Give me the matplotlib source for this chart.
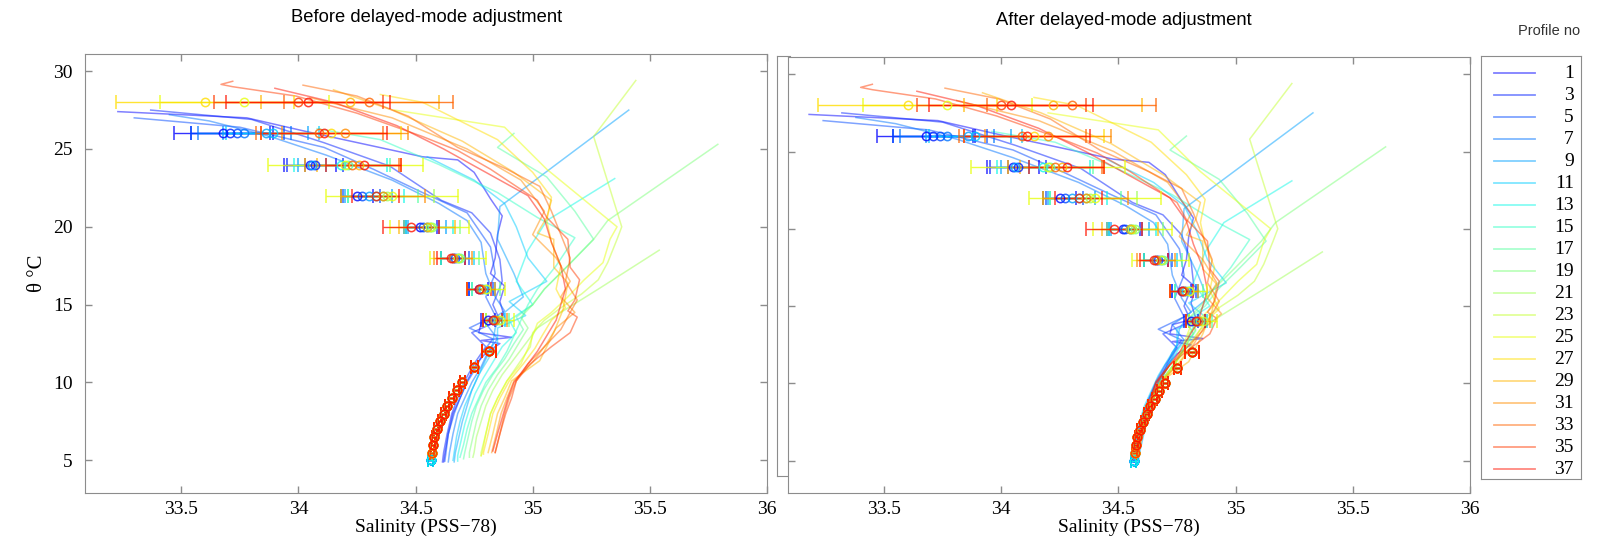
import numpy as np
import matplotlib
matplotlib.use('Agg')
import matplotlib.pyplot as plt
from matplotlib.lines import Line2D

plt.rcParams['font.family'] = 'Liberation Serif'

profile_no = [1, 3, 5, 7, 9, 11, 13, 15, 17, 19, 21, 23, 25, 27, 29, 31, 33, 35, 37]

# profiles before adjustment: potential temperature (degC) and salinity (PSS-78)
theta_p01 = [27.4, 27.0, 26.1, 24.5, 24.3, 23.5, 21.8, 20.7, 19.5, 18.0, 17.0, 16.2, 15.2, 14.2, 13.8, 13.2, 12.9, 12.7, 12.5, 11.9, 11.2, 10.1, 9.0, 8.0, 6.7, 5.4, 4.9]
sal_p01 = [33.23, 33.78, 34.04, 34.53, 34.68, 34.75, 34.82, 34.87, 34.85, 34.84, 34.82, 34.88, 34.86, 34.88, 34.78, 34.77, 34.91, 34.78, 34.86, 34.80, 34.76, 34.72, 34.69, 34.66, 34.64, 34.625, 34.62]
theta_p03 = [27.5, 26.9, 25.4, 23.9, 21.7, 20.9, 19.6, 17.9, 16.5, 15.0, 14.0, 13.2, 12.3, 11.2, 10.1, 9.0, 8.0, 6.7, 5.5, 4.9]
sal_p03 = [33.37, 33.80, 34.11, 34.39, 34.61, 34.74, 34.82, 34.86, 34.87, 34.83, 34.86, 34.74, 34.80, 34.75, 34.71, 34.68, 34.655, 34.635, 34.62, 34.615]
theta_p05 = [27.0, 26.4, 25.1, 23.7, 22.2, 20.9, 18.7, 17.0, 15.5, 14.3, 13.5, 12.8, 12.0, 11.0, 10.0, 9.0, 8.0, 6.7, 5.5, 4.95]
sal_p05 = [33.30, 33.75, 34.11, 34.32, 34.53, 34.72, 34.82, 34.84, 34.80, 34.84, 34.73, 34.83, 34.79, 34.76, 34.72, 34.69, 34.665, 34.64, 34.63, 34.625]
theta_p07 = [27.2, 26.8, 25.8, 24.6, 23.0, 21.5, 20.4, 19.0, 17.0, 15.5, 14.6, 13.8, 12.8, 12.0, 11.0, 10.0, 9.0, 8.0, 6.7, 5.5, 4.9]
sal_p07 = [33.45, 33.62, 33.88, 34.12, 34.40, 34.60, 34.72, 34.78, 34.80, 34.84, 34.88, 34.80, 34.85, 34.81, 34.78, 34.74, 34.71, 34.68, 34.66, 34.645, 34.64]
theta_p09 = [27.5, 21.3, 19.2, 17.0, 15.5, 14.5, 13.5, 12.5, 11.5, 10.5, 9.5, 8.5, 7.5, 6.5, 5.5, 4.9]
sal_p09 = [35.41, 34.86, 34.85, 34.92, 34.96, 34.88, 34.84, 34.83, 34.80, 34.77, 34.74, 34.72, 34.70, 34.685, 34.67, 34.665]
theta_p11 = [24.5, 23.0, 21.5, 20.0, 18.0, 16.5, 15.2, 14.3, 13.5, 12.5, 11.5, 10.5, 9.5, 8.5, 7.5, 6.5, 5.5, 5.0]
sal_p11 = [34.55, 34.75, 34.88, 34.93, 34.98, 35.06, 34.90, 34.97, 34.85, 34.85, 34.81, 34.77, 34.74, 34.71, 34.69, 34.675, 34.665, 34.66]
theta_p13 = [23.1, 20.4, 18.5, 16.5, 15.0, 14.0, 13.2, 12.3, 11.3, 10.3, 9.3, 8.3, 7.3, 6.3, 5.3, 4.95]
sal_p13 = [35.35, 35.06, 34.98, 34.93, 35.00, 34.90, 34.93, 34.87, 34.83, 34.79, 34.755, 34.73, 34.71, 34.695, 34.68, 34.68]
theta_p15 = [26.3, 25.6, 24.0, 22.2, 20.6, 19.3, 17.5, 16.0, 15.0, 14.0, 13.0, 12.0, 11.0, 10.0, 9.0, 8.0, 7.0, 6.0, 5.2]
sal_p15 = [34.08, 34.35, 34.60, 34.85, 35.02, 35.18, 35.10, 35.02, 34.98, 34.95, 34.92, 34.89, 34.85, 34.80, 34.77, 34.74, 34.72, 34.705, 34.69]
theta_p17 = [26.0, 25.1, 23.2, 21.0, 19.2, 17.5, 16.0, 15.0, 14.2, 13.4, 12.5, 11.5, 10.5, 9.5, 8.5, 7.5, 6.5, 5.5, 5.1]
sal_p17 = [34.92, 34.85, 35.06, 35.18, 35.26, 35.15, 35.05, 35.00, 34.93, 34.96, 34.92, 34.88, 34.83, 34.79, 34.76, 34.74, 34.725, 34.71, 34.705]
theta_p19 = [25.3, 20.4, 19.2, 17.5, 16.0, 15.0, 14.2, 13.5, 12.5, 11.5, 10.5, 9.5, 8.5, 7.5, 6.5, 5.5, 5.2]
sal_p19 = [35.79, 35.32, 35.26, 35.15, 35.05, 35.00, 34.95, 34.98, 34.94, 34.90, 34.85, 34.81, 34.78, 34.76, 34.745, 34.73, 34.73]
theta_p21 = [18.5, 16.0, 14.5, 13.5, 12.5, 11.5, 10.5, 9.5, 8.5, 7.5, 6.5, 5.5, 5.2]
sal_p21 = [35.54, 35.28, 35.12, 35.02, 34.97, 34.92, 34.87, 34.83, 34.80, 34.78, 34.76, 34.75, 34.745]
theta_p23 = [29.4, 25.8, 20.0, 19.2, 17.7, 16.6, 15.7, 14.8, 14.0, 13.2, 12.3, 11.2, 10.1, 9.0, 8.0, 6.7, 5.5, 5.3]
sal_p23 = [35.44, 35.26, 35.38, 35.36, 35.32, 35.28, 35.21, 35.12, 35.05, 35.00, 34.99, 34.94, 34.89, 34.85, 34.82, 34.80, 34.78, 34.78]
theta_p25 = [27.5, 26.4, 23.7, 20.0, 19.2, 17.7, 16.6, 15.5, 14.5, 13.8, 13.0, 12.2, 11.2, 10.1, 9.0, 8.0, 6.7, 5.5, 5.3]
sal_p25 = [34.41, 34.88, 35.06, 35.36, 35.33, 35.30, 35.22, 35.15, 35.08, 35.02, 35.00, 34.98, 34.95, 34.89, 34.85, 34.82, 34.80, 34.785, 34.78]
theta_p27 = [28.5, 28.0, 25.6, 23.5, 21.9, 20.4, 19.0, 17.5, 16.0, 14.8, 14.0, 13.0, 12.2, 11.2, 10.1, 9.0, 8.0, 6.7, 5.5, 5.4]
sal_p27 = [34.35, 34.53, 34.85, 35.00, 35.08, 35.06, 35.08, 35.12, 35.10, 35.14, 35.08, 35.04, 35.01, 34.96, 34.90, 34.86, 34.83, 34.81, 34.79, 34.79]
theta_p29 = [28.8, 27.5, 25.5, 23.5, 21.7, 20.6, 19.6, 19.2, 17.4, 16.4, 14.7, 13.2, 11.4, 10.1, 9.0, 8.0, 6.7, 5.5]
sal_p29 = [34.15, 34.40, 34.70, 34.92, 35.08, 35.06, 35.02, 35.09, 35.09, 35.15, 35.13, 35.09, 35.03, 34.91, 34.88, 34.85, 34.83, 34.81]
theta_p31 = [28.3, 27.0, 25.0, 23.0, 21.0, 19.5, 18.0, 16.5, 15.5, 14.5, 13.5, 12.5, 11.3, 10.1, 9.0, 8.0, 6.7, 5.5]
sal_p31 = [34.05, 34.40, 34.72, 34.95, 35.05, 35.00, 35.10, 35.16, 35.12, 35.18, 35.10, 35.06, 35.00, 34.92, 34.89, 34.865, 34.845, 34.825]
theta_p33 = [29.1, 28.4, 27.1, 25.1, 23.7, 22.6, 21.0, 19.5, 18.0, 16.5, 15.3, 14.5, 13.4, 12.3, 11.2, 10.1, 9.0, 8.0, 6.7, 5.5]
sal_p33 = [34.02, 34.25, 34.47, 34.68, 34.89, 35.03, 35.08, 35.12, 35.16, 35.14, 35.19, 35.16, 35.12, 35.05, 34.98, 34.93, 34.90, 34.88, 34.86, 34.84]
theta_p35 = [29.35, 29.15, 29.0, 28.4, 27.3, 25.8, 24.9, 23.7, 21.7, 20.6, 19.2, 17.4, 16.6, 15.3, 14.6, 14.2, 13.2, 12.3, 11.2, 10.1, 9.0, 8.0, 6.7, 5.5]
sal_p35 = [33.72, 33.67, 33.72, 33.99, 34.25, 34.53, 34.68, 34.82, 35.02, 35.06, 35.15, 35.16, 35.20, 35.18, 35.15, 35.19, 35.16, 35.08, 34.99, 34.93, 34.91, 34.885, 34.86, 34.84]
theta_p37 = [28.9, 28.0, 26.5, 25.0, 23.5, 22.0, 20.5, 19.0, 17.5, 16.0, 15.0, 14.0, 13.0, 12.0, 11.0, 10.0, 9.0, 8.0, 6.7, 5.6]
sal_p37 = [33.90, 34.15, 34.42, 34.62, 34.80, 34.98, 35.05, 35.08, 35.12, 35.14, 35.12, 35.10, 35.06, 35.02, 34.97, 34.92, 34.895, 34.875, 34.85, 34.83]

# delayed-mode salinity adjustment per profile
adj_offset = [-0.05, -0.05, -0.06, -0.07, -0.08, -0.10, -0.11, -0.12, -0.13, -0.15,
              -0.17, -0.20, -0.21, -0.21, -0.23, -0.24, -0.26, -0.27, -0.26]

# reference (climatology) salinity with errors, upper levels
ref_up_theta = [28] * 6 + [26] * 10 + [24] * 9 + [22] * 9 + [20] * 8 + [18] * 7 + [16] * 7 + [14] * 7
ref_up_prof = [27, 25, 35, 37, 29, 33,
               1, 3, 5, 7, 9, 11, 27, 33, 37, 31,
               1, 3, 9, 13, 17, 25, 29, 33, 37,
               1, 5, 9, 13, 17, 21, 25, 31, 37,
               1, 5, 9, 13, 19, 25, 29, 37,
               1, 5, 11, 17, 25, 31, 37,
               1, 5, 11, 17, 25, 31, 37,
               1, 5, 11, 17, 25, 31, 37]
ref_up_sal = [33.60, 33.77, 34.00, 34.04, 34.22, 34.30,
              33.68, 33.71, 33.74, 33.77, 33.86, 33.89, 34.14, 34.09, 34.11, 34.20,
              34.05, 34.07, 34.06, 34.18, 34.21, 34.20, 34.26, 34.23, 34.28,
              34.25, 34.27, 34.30, 34.33, 34.36, 34.38, 34.40, 34.36, 34.33,
              34.52, 34.53, 34.55, 34.56, 34.57, 34.56, 34.55, 34.48,
              34.66, 34.67, 34.68, 34.69, 34.68, 34.66, 34.65,
              34.77, 34.78, 34.79, 34.80, 34.80, 34.78, 34.77,
              34.81, 34.83, 34.84, 34.85, 34.86, 34.84, 34.83]
ref_up_err = [0.38, 0.36, 0.36, 0.35, 0.38, 0.36,
              0.21, 0.17, 0.20, 0.20, 0.18, 0.20, 0.30, 0.27, 0.27, 0.27,
              0.11, 0.12, 0.06, 0.20, 0.18, 0.33, 0.18, 0.20, 0.16,
              0.07, 0.08, 0.10, 0.12, 0.15, 0.20, 0.28, 0.18, 0.10,
              0.07, 0.07, 0.08, 0.10, 0.12, 0.17, 0.12, 0.12,
              0.05, 0.06, 0.07, 0.08, 0.12, 0.08, 0.06,
              0.04, 0.05, 0.05, 0.06, 0.08, 0.06, 0.05,
              0.03, 0.04, 0.04, 0.05, 0.06, 0.05, 0.04]

# reference salinity at deep levels (shared by all profiles reaching them)
ref_deep_theta = [12, 11, 10, 9.5, 9, 8.5, 8, 7.5, 7, 6.5, 6, 5.5, 5]
ref_deep_sal = [34.815, 34.75, 34.70, 34.675, 34.655, 34.635, 34.62, 34.605, 34.59, 34.58, 34.575, 34.57, 34.565]
ref_deep_err = [0.03, 0.015, 0.01, 0.01, 0.01, 0.01, 0.01, 0.01, 0.01, 0.01, 0.01, 0.01, 0.01]

xtick_vals = [33.5, 34, 34.5, 35, 35.5, 36]
xtick_labels = ['33.5', '34', '34.5', '35', '35.5', '36']
ytick_vals = [5, 10, 15, 20, 25, 30]

thetas = [theta_p01, theta_p03, theta_p05, theta_p07, theta_p09, theta_p11, theta_p13,
          theta_p15, theta_p17, theta_p19, theta_p21, theta_p23, theta_p25, theta_p27,
          theta_p29, theta_p31, theta_p33, theta_p35, theta_p37]
sals = [sal_p01, sal_p03, sal_p05, sal_p07, sal_p09, sal_p11, sal_p13,
        sal_p15, sal_p17, sal_p19, sal_p21, sal_p23, sal_p25, sal_p27,
        sal_p29, sal_p31, sal_p33, sal_p35, sal_p37]

colors = plt.get_cmap('jet')(np.linspace(0.11, 0.89, len(profile_no)))
frame_col = '0.55'
line_alpha = 0.5


def draw_panel(ax, offsets):
    for i in range(len(profile_no)):
        ax.plot(np.array(sals[i]) + offsets[i], thetas[i], color=colors[i],
                alpha=line_alpha, lw=1.1, zorder=2)
    ebkw = dict(fmt='o', ms=6, mfc='none', mew=1.1, elinewidth=1.0,
                capsize=5, capthick=1.0, alpha=0.8, zorder=3)
    up_theta = np.array(ref_up_theta)
    up_prof = np.array(ref_up_prof)
    up_sal = np.array(ref_up_sal)
    up_err = np.array(ref_up_err)
    for i, n in enumerate(profile_no):
        m = up_prof == n
        if m.any():
            ax.errorbar(up_sal[m], up_theta[m], xerr=up_err[m], color=colors[i], **ebkw)
        lev = [k for k, t in enumerate(ref_deep_theta) if t >= min(thetas[i]) - 0.05]
        ax.errorbar([ref_deep_sal[k] for k in lev], [ref_deep_theta[k] for k in lev],
                    xerr=[ref_deep_err[k] for k in lev], color=colors[i], **ebkw)
    ax.set_xlim(33.09, 36)
    ax.set_ylim(2.9, 31.1)
    ax.set_xticks(xtick_vals)
    ax.set_xticklabels(xtick_labels)
    ax.set_yticks(ytick_vals)
    ax.tick_params(direction='in', top=True, right=True, length=5, width=1,
                   color=frame_col, labelsize=14)
    ax.tick_params(axis='x', pad=6)
    ax.tick_params(axis='y', pad=9)
    for s in ax.spines.values():
        s.set_color(frame_col)
    ax.set_xlabel('Salinity (PSS\u221278)', fontsize=14, labelpad=0)


fig = plt.figure(figsize=(15.99, 5.38), dpi=100)

ax1 = fig.add_axes([0.0532, 0.0836, 0.4265, 0.816])
draw_panel(ax1, [0.0] * len(profile_no))
ax1.set_ylabel('\u03b8 \u00b0C', fontsize=15, labelpad=4)

# small empty frame sitting behind the right panel
axb = fig.add_axes([0.4860, 0.115, 0.0080, 0.781])
axb.set_xticks([])
axb.set_yticks([])
axb.spines['right'].set_visible(False)
for s in axb.spines.values():
    s.set_color(frame_col)

ax2 = fig.add_axes([0.4928, 0.0836, 0.4265, 0.810])
draw_panel(ax2, adj_offset)
ax2.set_yticklabels([])

fig.text(0.267, 0.968, 'Before delayed-mode adjustment', family='Liberation Sans',
         fontsize=13.2, ha='center', va='center')
fig.text(0.703, 0.962, 'After delayed-mode adjustment', family='Liberation Sans',
         fontsize=13.2, ha='center', va='center')
fig.text(0.969, 0.942, 'Profile no', family='Liberation Sans', fontsize=10.5,
         ha='center', va='center', color='0.2')

# legend box
axl = fig.add_axes([0.9262, 0.1097, 0.0625, 0.786])
axl.set_xlim(0, 1)
axl.set_ylim(18.45, -0.79)
axl.set_xticks([])
axl.set_yticks([])
for s in axl.spines.values():
    s.set_color(frame_col)
for i, n in enumerate(profile_no):
    axl.add_line(Line2D([0.13, 0.54], [i, i], color=colors[i], alpha=line_alpha, lw=1.3))
    axl.text(0.93, i, str(n), ha='right', va='center', fontsize=14)

fig.savefig('out.png', dpi=100)
